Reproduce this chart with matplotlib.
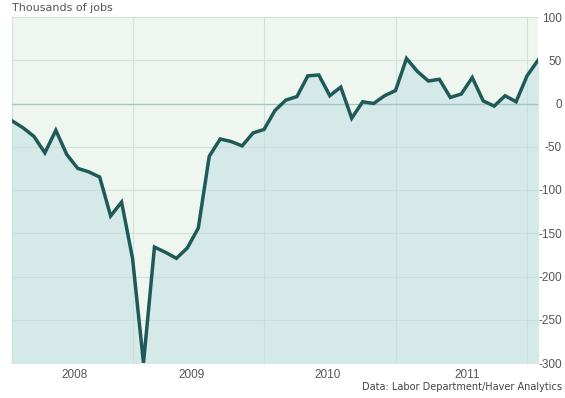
import matplotlib
matplotlib.use('Agg')
import matplotlib.pyplot as plt
import numpy as np

plt.rcParams['axes.unicode_minus'] = False

# monthly change, thousands of jobs (49 months)
jobs = [-20, -28, -38, -57, -31, -59, -75, -79, -85, -130,
        -114, -179, -300, -166, -172, -179, -167, -144, -61, -41,
        -44, -49, -34, -30, -8, 4, 8, 32, 33, 9,
        19, -17, 2, 0, 9, 15, 52, 37, 26, 28,
        7, 11, 30, 3, -3, 9, 2, 32, 50]
year_labels = ['2008', '2009', '2010', '2011']
year_pos = [5.75, 16.4, 28.8, 41.5]
grid_x = [0, 11, 23, 35, 47]
y_ticks = [100, 50, 0, -50, -100, -150, -200, -250, -300]

x = np.arange(len(jobs))

fig = plt.figure(figsize=(5.65, 3.98), dpi=100)
ax = fig.add_axes([12/565, 1 - 363/398, 526/565, 346/398])
ax.set_facecolor('#eff6ef')

ax.fill_between(x, jobs, -300, color='#d5e9e8', zorder=1)
for g in grid_x:
    ax.axvline(g, color='#c9ddd6', lw=0.8, zorder=2, alpha=0.8)
for t in y_ticks:
    if t != 0:
        ax.axhline(t, color='#c9ddd6', lw=0.8, zorder=2, alpha=0.8)
ax.axhline(0, color='#a3c6c4', lw=1, zorder=2)
ax.plot(x, jobs, color='#1e5b58', lw=2.5, zorder=3, solid_joinstyle='miter')

ax.set_xlim(0, len(jobs) - 1)
ax.set_ylim(-300, 100)
for s in ax.spines.values():
    s.set_visible(False)

ax.set_xticks(year_pos)
ax.set_xticklabels(year_labels)
ax.yaxis.tick_right()
ax.set_yticks(y_ticks)
ax.set_yticklabels([str(t) for t in y_ticks])
ax.tick_params(length=0, labelsize=8.5, colors='#555555')
ax.tick_params(axis='y', pad=2)
ax.tick_params(axis='x', pad=4)
for lab in ax.get_xticklabels() + ax.get_yticklabels():
    lab.set_family(['Liberation Sans Narrow', 'Liberation Sans'])
for lab in ax.get_yticklabels():
    lab.set_horizontalalignment('right')
    lab.set_x(1 + 21/526)

fig.text(12/565, 1 - 8/398, 'Thousands of jobs', fontsize=8, color='#555555',
         ha='left', va='center', family='DejaVu Sans')
fig.text(562/565, 1 - 387/398, 'Data: Labor Department/Haver Analytics',
         fontsize=7, color='#444444', ha='right', va='center', family='DejaVu Sans')

fig.savefig('out.png', dpi=100)
